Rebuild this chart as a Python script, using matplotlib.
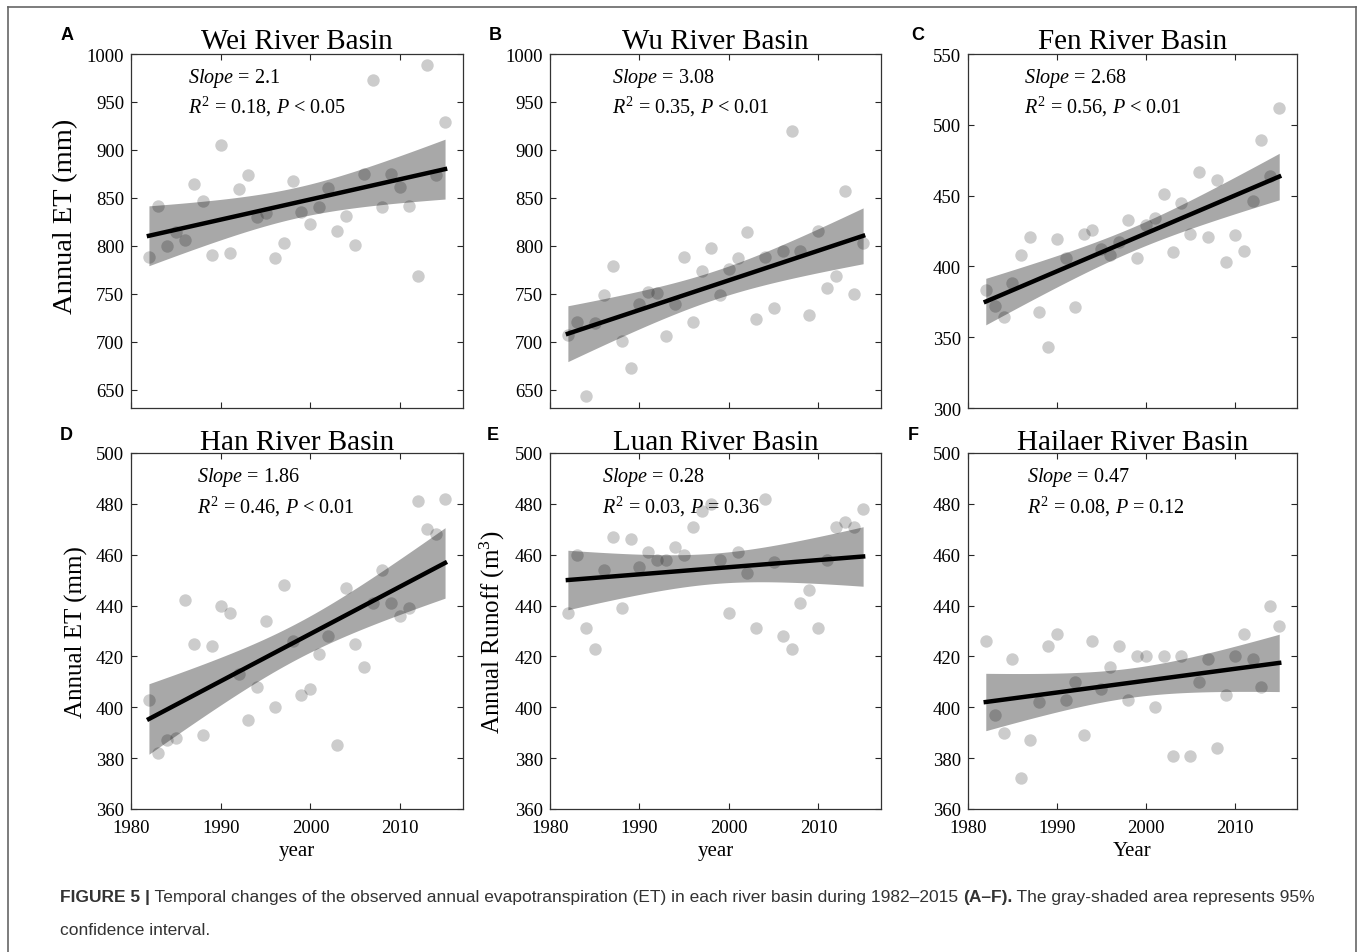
import numpy as np
import matplotlib
matplotlib.use("Agg")
import matplotlib.pyplot as plt
from matplotlib.lines import Line2D

plt.rcParams['font.family'] = ['Liberation Serif', 'DejaVu Serif']
plt.rcParams['mathtext.fontset'] = 'custom'
plt.rcParams['mathtext.rm'] = 'Liberation Serif'
plt.rcParams['mathtext.it'] = 'Liberation Serif:italic'

# data, 1982-2015
years = np.arange(1982, 2016)

wei_et = [788, 842, 800, 814, 806, 865, 847, 790, 905, 793, 859, 874, 830, 834, 787, 803,
          868, 835, 823, 840, 860, 816, 831, 801, 875, 973, 841, 875, 861, 842, 769, 989, 874, 929]
wu_et = [707, 721, 643, 720, 749, 779, 701, 673, 739, 752, 751, 706, 739, 788, 721, 774,
         798, 749, 776, 787, 814, 724, 788, 735, 795, 920, 795, 728, 815, 756, 769, 857, 750, 803]
fen_et = [383, 372, 364, 388, 408, 421, 368, 343, 419, 406, 371, 423, 426, 412, 408, 417,
          433, 406, 429, 434, 451, 410, 445, 423, 467, 421, 461, 403, 422, 411, 446, 489, 464, 512]
han_et = [403, 382, 387, 388, 442, 425, 389, 424, 440, 437, 413, 395, 408, 434, 400, 448,
          426, 405, 407, 421, 428, 385, 447, 425, 416, 441, 454, 441, 436, 439, 481, 470, 468, 482]
luan_runoff = [437, 460, 431, 423, 454, 467, 439, 466, 455, 461, 458, 458, 463, 460, 471, 477,
               480, 458, 437, 461, 453, 431, 482, 457, 428, 423, 441, 446, 431, 458, 471, 473, 471, 478]
hailaer_et = [426, 397, 390, 419, 372, 387, 402, 424, 429, 403, 410, 389, 426, 407, 416, 424,
              403, 420, 420, 400, 420, 381, 420, 381, 410, 419, 384, 405, 420, 429, 419, 408, 440, 432]

series = [wei_et, wu_et, fen_et, han_et, luan_runoff, hailaer_et]
titles = ['Wei River Basin', 'Wu River Basin', 'Fen River Basin',
          'Han River Basin', 'Luan River Basin', 'Hailaer River Basin']
panel_tags = ['A', 'B', 'C', 'D', 'E', 'F']
ylabels = ['Annual ET (mm)', '', '', 'Annual ET (mm)', r'Annual Runoff (m$^3$)', '']
xlabels = ['', '', '', 'year', 'year', 'Year']
slopes = ['2.1', '3.08', '2.68', '1.86', '0.28', '0.47']
stats = ['$R^2$ = 0.18, $P$ < 0.05', '$R^2$ = 0.35, $P$ < 0.01', '$R^2$ = 0.56, $P$ < 0.01',
         '$R^2$ = 0.46, $P$ < 0.01', '$R^2$ = 0.03, $P$ = 0.36', '$R^2$ = 0.08, $P$ = 0.12']
ylims = [(631, 1000), (631, 1000), (300, 550), (360, 500), (360, 500), (360, 500)]
yticks = [np.arange(650, 1001, 50), np.arange(650, 1001, 50), np.arange(300, 551, 50),
          np.arange(360, 501, 20), np.arange(360, 501, 20), np.arange(360, 501, 20)]
xticks = [1980, 1990, 2000, 2010]

W, H = 1358, 953
fig = plt.figure(figsize=(W / 100, H / 100), dpi=100)

lefts = [131, 550, 968]
widths = [332, 331, 329]
tops = [55, 454]
bottoms = [409, 810]
text_x = [0.172, 0.187, 0.17, 0.2, 0.157, 0.18]
tag_pos = [(67, 36), (495, 36), (918, 36), (66, 436), (493, 436), (913, 436)]
ylabel_size = [20.5, 0, 0, 18, 18, 0]

T975 = 2.0369  # t value, df = 32

for i, vals in enumerate(series):
    r, c = divmod(i, 3)
    ax = fig.add_axes([lefts[c] / W, 1 - bottoms[r] / H, widths[c] / W, (bottoms[r] - tops[r]) / H])
    x = years.astype(float)
    y = np.array(vals, dtype=float)

    b, a = np.polyfit(x, y, 1)
    n = len(x)
    s = np.sqrt(np.sum((y - (a + b * x)) ** 2) / (n - 2))
    sxx = np.sum((x - x.mean()) ** 2)
    xx = np.linspace(x.min(), x.max(), 200)
    yy = a + b * xx
    se = s * np.sqrt(1 / n + (xx - x.mean()) ** 2 / sxx)

    ax.fill_between(xx, yy - T975 * se, yy + T975 * se, color='#a8a8a8', lw=0, zorder=1)
    ax.scatter(x, y, s=80, color='k', alpha=0.2, linewidths=0, zorder=2)
    ax.plot(xx, yy, color='k', lw=3.2, zorder=3)

    ax.set_xlim(1980, 2017)
    ax.set_ylim(*ylims[i])
    ax.set_xticks(xticks)
    ax.set_yticks(yticks[i])
    ax.tick_params(direction='in', top=True, right=True, length=4, width=0.8,
                   colors='#262626', labelsize=13.5, labelcolor='black',
                   labelbottom=(r == 1))
    ax.tick_params(axis='x', pad=7)
    ax.tick_params(axis='y', pad=5)
    for sp in ax.spines.values():
        sp.set_color('#333333')
        sp.set_linewidth(0.9)

    ax.set_title(titles[i], fontsize=21, pad=3)
    if ylabels[i]:
        ax.set_ylabel(ylabels[i], fontsize=ylabel_size[i], labelpad=6)
    if i == 0:
        ax.yaxis.set_label_coords(-0.16, 0.545)
    if xlabels[i]:
        ax.set_xlabel(xlabels[i], fontsize=15, labelpad=4)

    ax.text(text_x[i], 0.934, r'$\it{Slope}$ = ' + slopes[i], transform=ax.transAxes,
            fontsize=14.5, va='center', ha='left')
    ax.text(text_x[i], 0.852, stats[i], transform=ax.transAxes,
            fontsize=14.5, va='center', ha='left')

    fig.text(tag_pos[i][0] / W, 1 - tag_pos[i][1] / H, panel_tags[i], fontsize=13,
             fontweight='bold', family=['Liberation Sans', 'DejaVu Sans'],
             ha='center', va='center')

# outer frame (open at the bottom)
fc = '#666666'
fig.add_artist(Line2D([8 / W, 8 / W], [0, 1 - 8 / H], transform=fig.transFigure, color=fc, lw=1.2))
fig.add_artist(Line2D([1356 / W, 1356 / W], [0, 1 - 8 / H], transform=fig.transFigure, color=fc, lw=1.2))
fig.add_artist(Line2D([8 / W, 1356 / W], [1 - 8 / H, 1 - 8 / H], transform=fig.transFigure, color=fc, lw=1.2))

# caption
cap_font = ['Liberation Sans Narrow', 'Liberation Sans', 'DejaVu Sans']
cap_size = 12.5
cap_color = '#333333'
fig.canvas.draw()
rend = fig.canvas.get_renderer()
pieces = [('FIGURE 5 |', 'bold'),
          (' Temporal changes of the observed annual evapotranspiration (ET) in each river basin during 1982–2015 ', 'normal'),
          ('(A–F).', 'bold'),
          (' The gray-shaded area represents 95%', 'normal')]
xpos = 60
for txt, wt in pieces:
    t = fig.text(xpos / W, 1 - 898 / H, txt, fontsize=cap_size, fontweight=wt, family=cap_font,
                 color=cap_color, va='center', ha='left')
    bb = t.get_window_extent(rend)
    xpos += bb.width
fig.text(60 / W, 1 - 931 / H, 'confidence interval.', fontsize=cap_size, family=cap_font,
         color=cap_color, va='center', ha='left')

fig.savefig('out.png', dpi=100)
